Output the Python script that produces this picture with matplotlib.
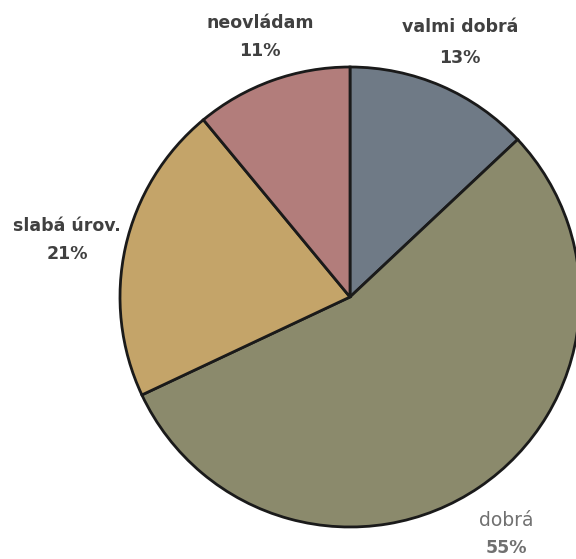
import matplotlib.pyplot as plt

labels = ["valmi dobrá", "dobrá", "slabá úrov.", "neovládam"]
values = [13, 55, 21, 11]
colors = ["#6f7a86", "#8b8a6c", "#c4a469", "#b27d7b"]

fig = plt.figure(figsize=(5.76, 5.59), dpi=100)
ax = fig.add_axes([0, 0, 1, 1])

ax.pie(values, colors=colors, startangle=90, counterclock=False,
       wedgeprops=dict(edgecolor="#1a1a1a", linewidth=2))

ax.set_xlim(-350 / 230, 226 / 230)
ax.set_ylim(-(559 - 297) / 230, 297 / 230)
ax.set_aspect("auto")
ax.axis("off")

# label positions (data units, radius = 1)
label_pos = [(0.478, 1.175, 1.04), (0.68, -0.97, -1.09),
             (-1.23, 0.31, 0.185), (-0.39, 1.19, 1.07)]
for lab, v, (x, y1, y2) in zip(labels, values, label_pos):
    weight = "normal" if lab == "dobrá" else "bold"
    col = "#707070" if lab == "dobrá" else "#404040"
    size = 13.5 if lab == "dobrá" else 12.5
    ax.text(x, y1, lab, ha="center", va="center", fontsize=size,
            fontweight=weight, color=col)
    ax.text(x, y2, f"{v}%", ha="center", va="center", fontsize=12.5,
            fontweight="bold", color=col)

fig.savefig("out.png", dpi=100, facecolor="white")
